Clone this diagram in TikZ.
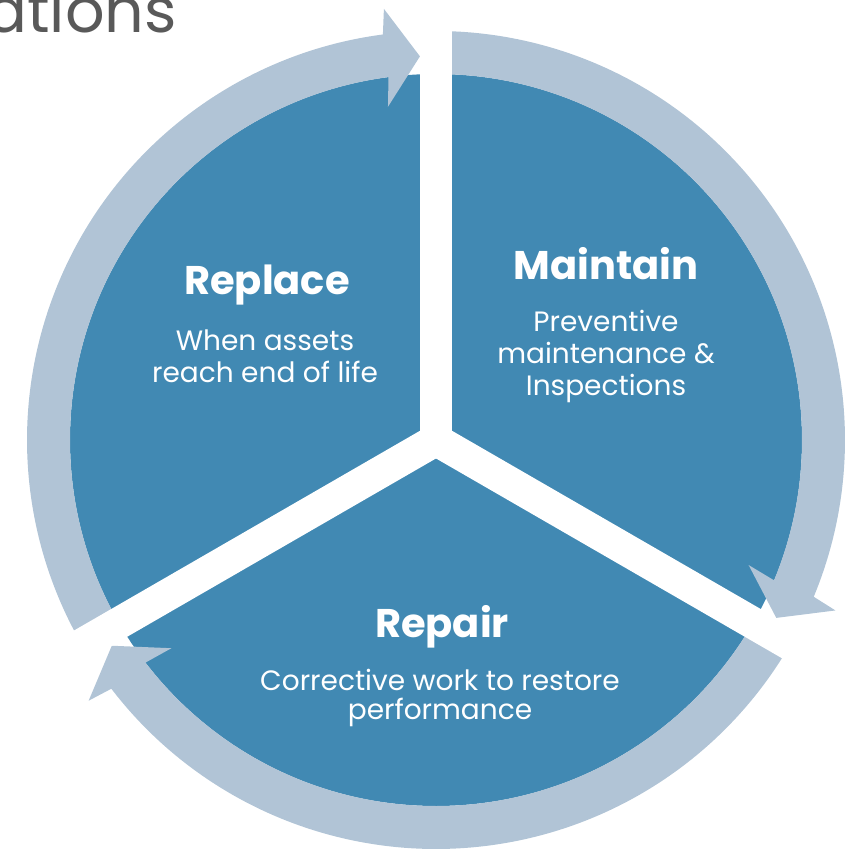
\documentclass[tikz,border=0pt]{standalone}
\usepackage{fontspec}
\setmainfont{Poppins}
\definecolor{sector}{HTML}{4189B3}
\definecolor{ringarrow}{HTML}{B1C4D6}
\definecolor{headline}{HTML}{595959}
\begin{document}
\begin{tikzpicture}[x=1pt,y=1pt,
    title/.style={text=white,anchor=base,inner sep=0,font=\bfseries\fontsize{40}{44}\selectfont},
    body/.style={text=white,align=center,inner sep=0,font=\fontsize{28}{32}\selectfont}]
  \useasboundingbox (-436,-413) rectangle (420,440);
  % cropped heading
  \node[text=headline,anchor=base east,inner sep=0,font=\fontsize{62}{62}\selectfont] (head) at (-259,407) {ations};
  % inner disk
  \fill[sector] (0,0) circle (366);
  % ring arrows, clockwise
  \foreach \s/\t in {210/92.4, 90/-27.6, -30/-147.6} {
    \fill[ringarrow] (\s:366) arc[start angle=\s, end angle={\t+5.06}, radius=366]
      -- ({\t+5.8}:336.7) -- (\t:384) -- ({\t+4.49}:434.3) -- ({\t+5.06}:409)
      arc[start angle={\t+5.06}, end angle=\s, radius=409] -- cycle;
  }
  % gaps
  \foreach \a in {90,210,330}
    \fill[white,rotate=\a] (0,-16) rectangle (450,16);
  \node[title] (replace) at (-169,145) {Replace};
  \node[body] (replacetxt) at (-171,84) {When assets\\reach end of life};
  \node[title] (maintain) at (170,160) {Maintain};
  \node[body] (maintaintxt) at (170,84) {Preventive\\maintenance \&\\Inspections};
  \node[title] (repair) at (6,-197) {Repair};
  \node[body,font=\fontsize{28}{29}\selectfont] (repairtxt) at (4,-258) {Corrective work to restore\\performance};
\end{tikzpicture}
\end{document}
